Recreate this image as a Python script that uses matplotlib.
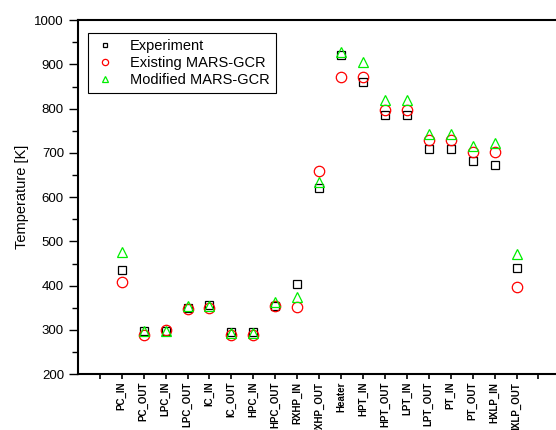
import numpy as np
import matplotlib
matplotlib.use('Agg')
import matplotlib.pyplot as plt
from matplotlib.ticker import MultipleLocator

plt.rcParams['font.family'] = ['Liberation Sans', 'DejaVu Sans']

labels = ['PC_IN', 'PC_OUT', 'LPC_IN', 'LPC_OUT', 'IC_IN', 'IC_OUT', 'HPC_IN',
          'HPC_OUT', 'RXHP_IN', 'RXHP_OUT', 'Heater', 'HPT_IN', 'HPT_OUT',
          'LPT_IN', 'LPT_OUT', 'PT_IN', 'PT_OUT', 'HXLP_IN', 'HXLP_OUT']
experiment = [435, 298, 297, 349, 356, 296, 296, 355, 404, 620, 921, 860,
              786, 786, 708, 708, 681, 672, 439]
existing = [409, 288, 299, 347, 350, 288, 288, 353, 352, 658, 872, 872,
            797, 797, 729, 729, 701, 703, 397]
modified = [477, 298, 298, 355, 353, 294, 294, 364, 375, 634, 928, 905,
            819, 819, 743, 743, 716, 722, 472]

x = np.arange(1, len(labels) + 1)

fig = plt.figure(figsize=(5.56, 4.3), dpi=100)
ax = fig.add_axes([0.140, 0.130, 0.86, 0.823])

ax.plot(x, experiment, 's', mfc='none', mec='black', ms=6, mew=0.9, label='Experiment')
ax.plot(x, existing, 'o', mfc='none', mec='red', ms=7.5, mew=0.9, label='Existing MARS-GCR')
ax.plot(x, modified, '^', mfc='none', mec='#00ee00', ms=7.5, mew=0.9, label='Modified MARS-GCR')

ax.set_xlim(-1.0, 20.8)
ax.set_ylim(200, 1000)
ax.set_xticks(np.arange(0, 21))
ax.set_xticklabels([''] + labels + [''], rotation=90, fontsize=7, fontweight='bold')
ax.yaxis.set_major_locator(MultipleLocator(100))
ax.yaxis.set_minor_locator(MultipleLocator(50))
ax.tick_params(axis='y', which='major', length=6.5, width=1, labelsize=9.5, direction='out')
ax.tick_params(axis='y', which='minor', length=4, width=1, direction='out')
ax.tick_params(axis='x', length=3.5, width=1.2, direction='out', pad=2)
ax.set_ylabel('Temperature [K]', fontsize=10.5)

for s in ['left', 'top', 'bottom']:
    ax.spines[s].set_linewidth(1.5)
ax.spines['right'].set_visible(False)

leg = ax.legend(loc='upper left', bbox_to_anchor=(0.021, 0.963), fontsize=10.5,
                fancybox=False, edgecolor='black', framealpha=1, markerscale=0.6,
                handlelength=1.6, handletextpad=0.9, borderpad=0.4,
                labelspacing=0.2, borderaxespad=0)
leg.get_frame().set_linewidth(0.8)

fig.savefig('out.png', dpi=100)
